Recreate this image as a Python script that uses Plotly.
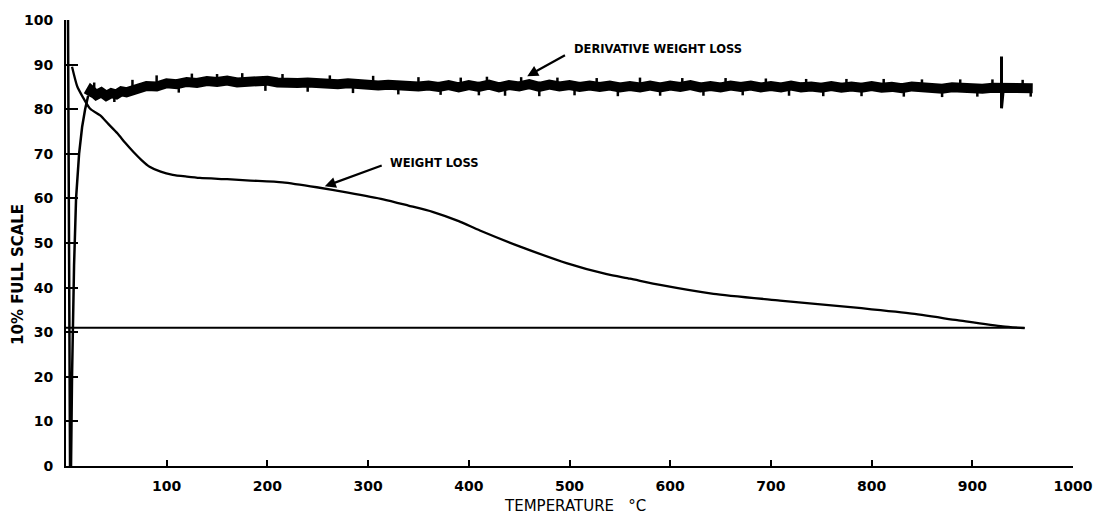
import plotly.graph_objects as go

# Weight loss curve (temperature °C, % full scale)
wl_t = [6, 11, 16, 24, 34, 42, 51, 59, 67, 75, 83, 94, 106, 120, 133, 160, 183, 215, 249, 280,
        315, 340, 364, 390, 411, 451, 497, 537, 560, 590, 643, 709, 779, 838, 885, 930, 952]
wl_v = [89.5, 85.2, 83.0, 80.1, 78.6, 76.7, 74.6, 72.4, 70.4, 68.6, 67.1, 66.0, 65.3, 64.9,
        64.6, 64.3, 64.0, 63.6, 62.5, 61.3, 59.8, 58.4, 57.0, 54.9, 52.8, 49.2, 45.5, 43.0,
        42.0, 40.6, 38.6, 37.1, 35.6, 34.2, 32.7, 31.3, 30.9]

# Baseline
base_t = [0, 952]
base_v = [31.0, 31.0]

# Derivative weight loss: initial transient
der0_t = [2, 3, 4, 5, 6, 8, 10, 13, 16, 19, 22]
der0_v = [100, 50, 0, 0, 20, 45, 60, 70, 76, 80, 83.0]

# Derivative weight loss: noisy trace
der_t = [22, 25, 30, 35, 40, 45, 50, 55, 60,
         70, 80, 90, 100, 110, 120, 130, 140, 150, 160, 170, 180, 190, 200,
         210, 220, 230, 240, 250, 260, 270, 280, 290, 300, 310, 320, 330, 340,
         350, 360, 370, 380, 390, 400, 410, 420, 430, 440, 450, 460, 470, 480,
         490, 500, 510, 520, 530, 540, 550, 560, 570, 580, 590, 600, 610, 620,
         630, 640, 650, 660, 670, 680, 690, 700, 710, 720, 730, 740, 750, 760,
         770, 780, 790, 800, 810, 820, 830, 840, 850, 860, 870, 880, 890, 900,
         910, 920, 930, 940, 950, 960]
der_v = [83.0, 84.2, 83.2, 83.8, 83.0, 83.6, 83.3, 84.0, 83.8,
         84.6, 85.2, 85.1, 85.8, 85.6, 86.1, 85.9, 86.3, 86.1, 86.4, 86.0, 86.3, 86.1, 86.4,
         86.0, 86.2, 85.9, 86.0, 85.7, 85.9, 85.6, 85.8, 85.5, 85.7, 85.3, 85.5, 85.2, 85.4,
         85.1, 85.3, 85.0, 85.4, 84.9, 85.4, 85.0, 85.5, 84.9, 85.4, 85.1, 85.6, 85.0, 85.5,
         85.1, 85.4, 85.0, 85.3, 85.0, 85.3, 84.9, 85.2, 84.9, 85.3, 84.9, 85.3, 85.0, 85.4,
         84.9, 85.2, 84.9, 85.3, 85.0, 85.3, 84.9, 85.2, 84.9, 85.3, 84.9, 85.1, 84.8, 85.2,
         84.8, 85.1, 84.8, 85.2, 84.8, 85.0, 84.7, 85.1, 84.8, 85.0, 84.6, 84.9, 84.7, 85.0,
         84.6, 84.8, 84.9, 84.6, 84.9, 84.7]

# Small noise bumps on the edges of the derivative band
spk_t = [28, 48, 66, 90, 112, 125, 150, 175, 198, 215, 240, 262, 285, 305, 330, 350, 372,
         392, 410, 418, 436, 452, 470, 488, 505, 527, 548, 570, 590, 612, 633, 655, 672, 695,
         718, 735, 752, 775, 790, 812, 832, 850, 870, 888, 905, 920, 950, 958]
spk_v = [85.2, 82.4, 85.8, 86.8, 84.5, 87.2, 87.1, 87.3, 84.9, 87.1, 84.7, 86.8, 84.4, 86.7,
         84.1, 86.4, 84.0, 86.3, 83.9, 86.5, 83.8, 86.4, 83.7, 86.3, 83.9, 86.2, 83.7, 86.3,
         83.8, 86.2, 83.8, 86.2, 83.9, 86.1, 83.8, 86.0, 83.7, 86.0, 83.7, 86.0, 83.6, 85.9,
         83.5, 85.9, 83.6, 85.9, 85.8, 83.6]

# Sharp spike near 930 °C
sp_t = [929, 929, 931]
sp_v = [91.8, 80.2, 85.0]

x_ticks = [100, 200, 300, 400, 500, 600, 700, 800, 900, 1000]
y_ticks = [0, 10, 20, 30, 40, 50, 60, 70, 80, 90, 100]

fig = go.Figure()
fig.add_trace(go.Scatter(x=base_t, y=base_v, mode="lines",
                         line=dict(color="black", width=2), showlegend=False))
fig.add_trace(go.Scatter(x=wl_t, y=wl_v, mode="lines", line_shape="spline",
                         line=dict(color="black", width=2.3, smoothing=0.6), showlegend=False))
fig.add_trace(go.Scatter(x=der0_t, y=der0_v, mode="lines",
                         line=dict(color="black", width=2.5), showlegend=False))
fig.add_trace(go.Scatter(x=der_t, y=der_v, mode="lines",
                         line=dict(color="black", width=10), showlegend=False))
fig.add_trace(go.Scatter(x=spk_t, y=spk_v, mode="markers",
                         marker=dict(symbol="line-ns", size=5, color="black",
                                     line=dict(color="black", width=2.5)), showlegend=False))
fig.add_trace(go.Scatter(x=sp_t, y=sp_v, mode="lines",
                         line=dict(color="black", width=3), showlegend=False))

ann_font = dict(family="DejaVu Sans", size=11.5, color="black", weight="bold")
fig.add_annotation(x=458, y=87.4, ax=497, ay=92.3, xref="x", yref="y", axref="x", ayref="y",
                   showarrow=True, arrowhead=2, arrowsize=1, arrowwidth=2.2, arrowcolor="black", text="")
fig.add_annotation(x=502, y=93.6, xref="x", yref="y", text="DERIVATIVE WEIGHT LOSS",
                   showarrow=False, xanchor="left", yanchor="middle", font=ann_font)
fig.add_annotation(x=257, y=62.7, ax=315, ay=67.5, xref="x", yref="y", axref="x", ayref="y",
                   showarrow=True, arrowhead=2, arrowsize=1, arrowwidth=2.2, arrowcolor="black", text="")
fig.add_annotation(x=320, y=68.0, xref="x", yref="y", text="WEIGHT LOSS",
                   showarrow=False, xanchor="left", yanchor="middle", font=ann_font)

# axis titles (positions given in pixels, converted below)
fig.add_annotation(x=575, y=507, xref="paper", yref="paper", text="TEMPERATURE   °C",
                   showarrow=False, font=dict(family="DejaVu Sans", size=15, color="black"))
fig.add_annotation(x=18, y=272, xref="paper", yref="paper", text="10% FULL SCALE",
                   showarrow=False, textangle=-90,
                   font=dict(family="DejaVu Sans", size=15, color="black", weight="bold"))

tick_font = dict(family="DejaVu Sans", size=14, color="black", weight="bold")
fig.update_layout(
    width=1108, height=522,
    margin=dict(l=66, r=35, t=13, b=56),
    paper_bgcolor="white", plot_bgcolor="white",
    xaxis=dict(range=[0, 1000], tickvals=x_ticks, ticktext=[str(v) for v in x_ticks],
               showgrid=False, zeroline=False, showline=True, linecolor="black", linewidth=2,
               ticks="inside", ticklen=6, tickwidth=2, tickcolor="black", tickfont=tick_font,
               ticklabelstandoff=6),
    yaxis=dict(range=[0, 100], tickvals=y_ticks, ticktext=[str(v) for v in y_ticks],
               showgrid=False, zeroline=False, showline=True, linecolor="black", linewidth=2,
               ticks="inside", ticklen=12, tickwidth=2, tickcolor="black", tickfont=tick_font,
               ticklabelstandoff=8),
)

for a in fig.layout.annotations:
    if a.xref == "paper":
        px, py = a.x, a.y
        a.x = (px - 66) / (1108 - 66 - 35)
        a.y = 1 - (py - 13) / (522 - 13 - 56)
        a.xanchor = "center"
        a.yanchor = "middle"

fig.write_html("out.html")
